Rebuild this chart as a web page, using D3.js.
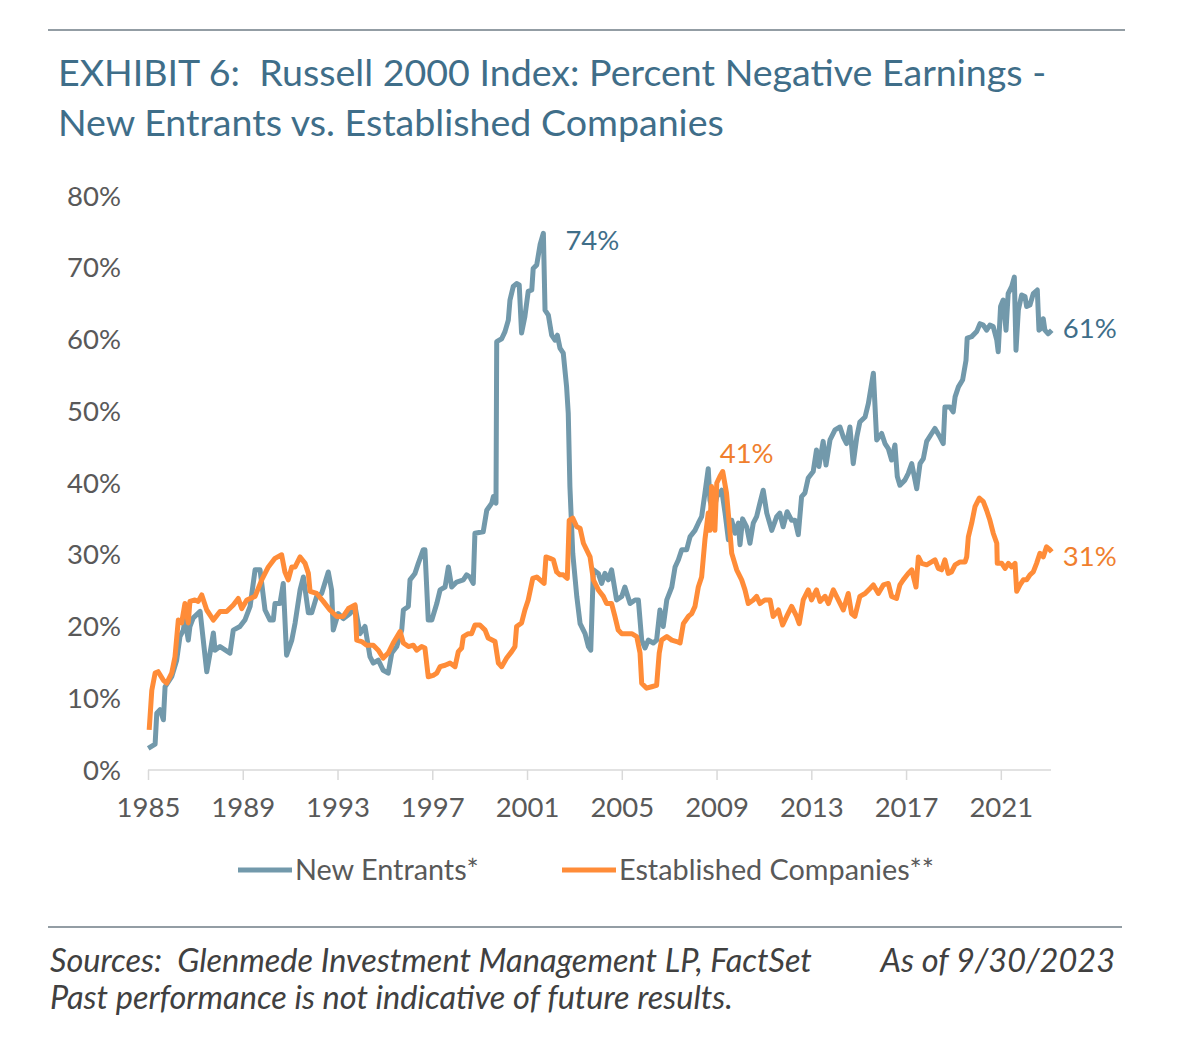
<!DOCTYPE html>
<html>
<head>
<meta charset="utf-8">
<script src="https://cdn.jsdelivr.net/npm/d3@7"></script>
<style>
  html, body { margin: 0; padding: 0; background: #fff; }
  svg { display: block; font-family: Lato, "Noto Sans", sans-serif; }
  svg text { white-space: pre; }
</style>
</head>
<body>
<svg id="chart" width="1179" height="1060"></svg>
<script>
// ---- Data (decimal years, percent negative earnings) ----
const newEntrantsYears = [1985.01,1985.30,1985.37,1985.51,1985.65,1985.72,1986.00,1986.21,1986.35,1986.49,1986.56,1986.70,1986.77,1986.91,1987.20,1987.41,1987.48,1987.62,1987.76,1987.83,1988.04,1988.46,1988.60,1988.88,1989.09,1989.31,1989.52,1989.73,1989.94,1990.15,1990.29,1990.36,1990.57,1990.71,1990.85,1991.07,1991.21,1991.42,1991.56,1991.77,1991.91,1992.12,1992.33,1992.61,1992.75,1992.82,1993.03,1993.24,1993.53,1993.74,1993.95,1994.16,1994.37,1994.51,1994.72,1994.93,1995.14,1995.29,1995.50,1995.71,1995.78,1995.99,1996.06,1996.27,1996.41,1996.62,1996.69,1996.83,1996.98,1997.19,1997.33,1997.54,1997.68,1997.82,1998.03,1998.31,1998.45,1998.59,1998.73,1998.80,1999.15,1999.30,1999.51,1999.58,1999.69,1999.72,1999.93,2000.07,2000.21,2000.28,2000.42,2000.56,2000.67,2000.77,2000.91,2001.05,2001.20,2001.26,2001.41,2001.55,2001.69,2001.76,2001.90,2002.04,2002.18,2002.28,2002.39,2002.53,2002.67,2002.74,2002.81,2002.93,2003.10,2003.24,2003.45,2003.59,2003.69,2003.80,2004.01,2004.15,2004.29,2004.43,2004.57,2004.78,2005.00,2005.13,2005.35,2005.56,2005.70,2005.84,2005.98,2006.12,2006.33,2006.47,2006.61,2006.75,2006.90,2007.11,2007.25,2007.39,2007.53,2007.74,2007.88,2008.09,2008.23,2008.37,2008.51,2008.65,2008.72,2008.86,2009.01,2009.22,2009.36,2009.50,2009.64,2009.78,2009.92,2009.99,2010.10,2010.27,2010.41,2010.55,2010.69,2010.83,2010.97,2011.12,2011.33,2011.54,2011.67,2011.81,2011.98,2012.17,2012.31,2012.45,2012.59,2012.73,2012.87,2013.08,2013.22,2013.32,2013.50,2013.62,2013.79,2014.00,2014.21,2014.35,2014.49,2014.63,2014.77,2014.92,2015.05,2015.27,2015.41,2015.62,2015.76,2015.97,2016.11,2016.25,2016.39,2016.53,2016.63,2016.74,2016.95,2017.09,2017.24,2017.45,2017.59,2017.73,2017.87,2018.08,2018.22,2018.43,2018.57,2018.64,2018.85,2018.99,2019.07,2019.21,2019.39,2019.53,2019.58,2019.77,2019.98,2020.12,2020.26,2020.40,2020.54,2020.68,2020.83,2020.89,2020.99,2021.10,2021.22,2021.31,2021.46,2021.57,2021.64,2021.74,2021.88,2022.02,2022.09,2022.23,2022.37,2022.54,2022.61,2022.72,2022.79,2022.86,2023.00,2023.15];
const newEntrantsValues = [3.0,3.6,7.9,8.4,7.0,11.6,13.0,15.3,18.6,19.5,20.9,18.1,20.0,21.2,22.1,15.8,13.7,16.3,19.1,16.7,17.2,16.3,19.5,20.0,20.9,22.8,27.9,27.9,22.3,20.9,20.9,23.2,23.2,26.0,16.0,18.1,20.5,25.1,26.9,21.9,21.9,24.2,24.6,27.6,25.1,19.5,21.8,21.1,21.8,22.8,19.0,20.0,15.8,14.9,15.3,13.9,13.5,16.3,17.2,19.5,22.3,22.8,26.5,27.4,28.8,30.7,30.7,20.9,20.9,23.2,25.1,25.5,28.3,25.5,26.2,26.5,27.2,26.9,26.0,33.0,33.2,36.2,37.2,38.1,37.2,59.7,60.1,61.1,62.7,65.5,67.4,67.8,67.6,60.9,63.2,66.7,66.9,69.9,70.4,73.2,74.8,64.1,63.4,60.6,59.9,60.6,58.8,58.1,53.4,49.7,39.5,30.2,24.2,20.4,19.0,17.2,16.7,27.9,27.4,26.0,27.4,26.5,27.9,23.7,24.2,25.5,23.2,23.7,23.7,18.1,17.0,18.1,17.7,18.1,22.3,20.0,23.7,25.5,28.3,29.3,30.7,30.7,32.5,33.4,34.4,35.3,38.6,42.0,37.6,35.8,38.1,39.0,35.8,32.1,34.8,33.0,34.4,31.4,35.0,33.9,31.6,34.4,35.3,37.2,39.0,35.8,33.4,35.3,35.8,33.9,36.0,34.8,34.8,32.8,38.1,38.6,40.7,41.6,44.6,42.3,45.8,42.5,46.0,47.4,47.8,46.4,45.5,47.8,42.7,46.4,48.5,49.2,51.1,55.3,46.0,46.9,45.5,44.8,43.2,45.3,40.9,39.7,40.4,41.3,42.7,39.2,42.7,43.4,45.8,46.9,47.6,46.4,45.5,50.6,50.6,49.9,52.0,53.4,54.4,57.1,60.2,60.4,61.1,62.2,62.0,61.3,62.0,61.8,59.9,58.3,64.6,65.5,61.3,66.4,67.4,68.7,58.5,64.1,66.2,66.0,64.6,64.8,66.4,66.9,61.3,61.6,62.9,61.3,60.8,61.3];

const establishedYears = [1985.05,1985.16,1985.30,1985.43,1985.65,1985.79,1986.00,1986.14,1986.28,1986.42,1986.56,1986.70,1986.77,1986.98,1987.12,1987.27,1987.48,1987.76,1988.04,1988.32,1988.60,1988.81,1988.96,1989.17,1989.52,1989.80,1990.08,1990.36,1990.64,1990.78,1990.92,1991.07,1991.21,1991.42,1991.63,1991.77,1991.84,1992.12,1992.40,1992.68,1992.97,1993.24,1993.46,1993.74,1993.81,1994.02,1994.23,1994.51,1994.72,1994.93,1995.14,1995.35,1995.64,1995.78,1995.99,1996.20,1996.34,1996.55,1996.69,1996.83,1997.04,1997.19,1997.33,1997.54,1997.75,1997.96,1998.10,1998.24,1998.31,1998.52,1998.66,1998.80,1999.01,1999.23,1999.36,1999.65,1999.79,1999.93,2000.14,2000.35,2000.49,2000.56,2000.77,2000.91,2001.05,2001.24,2001.41,2001.55,2001.72,2001.80,2001.97,2002.11,2002.25,2002.39,2002.53,2002.70,2002.78,2002.93,2003.10,2003.24,2003.38,2003.66,2003.80,2004.01,2004.22,2004.36,2004.57,2004.71,2004.85,2005.00,2005.21,2005.42,2005.63,2005.77,2005.84,2006.05,2006.26,2006.47,2006.58,2006.68,2006.90,2007.11,2007.32,2007.46,2007.60,2007.81,2007.95,2008.09,2008.23,2008.37,2008.51,2008.65,2008.72,2008.79,2008.93,2009.01,2009.14,2009.26,2009.42,2009.56,2009.64,2009.85,2010.06,2010.20,2010.34,2010.55,2010.69,2010.83,2011.04,2011.26,2011.39,2011.61,2011.79,2011.96,2012.17,2012.38,2012.49,2012.66,2012.87,2013.01,2013.22,2013.37,2013.58,2013.72,2013.93,2014.14,2014.35,2014.56,2014.70,2014.84,2015.05,2015.27,2015.48,2015.62,2015.83,2016.04,2016.25,2016.39,2016.60,2016.74,2016.88,2017.09,2017.24,2017.42,2017.52,2017.66,2017.87,2018.08,2018.22,2018.36,2018.50,2018.64,2018.78,2018.92,2019.07,2019.28,2019.49,2019.56,2019.63,2019.77,2019.91,2020.09,2020.26,2020.40,2020.54,2020.68,2020.83,2020.85,2021.04,2021.18,2021.32,2021.46,2021.60,2021.67,2021.81,2021.95,2022.09,2022.23,2022.37,2022.51,2022.65,2022.79,2022.93,2023.07,2023.15];
const establishedValues = [5.6,11.1,13.5,13.7,12.5,12.1,13.5,15.8,20.9,20.5,23.2,20.5,23.5,23.7,23.5,24.4,22.3,20.9,22.1,22.1,23.0,23.9,22.5,23.7,24.2,26.5,28.3,29.5,30.0,27.6,26.5,28.3,28.3,29.7,28.8,27.4,24.9,24.6,23.5,22.3,21.4,21.4,22.5,23.0,18.1,17.9,17.4,17.4,16.7,15.6,16.3,17.7,19.3,17.7,17.2,17.4,16.7,17.2,17.0,13.0,13.2,13.5,14.4,14.6,14.9,14.4,16.5,17.0,18.6,19.0,19.0,20.2,20.2,19.5,18.4,17.9,14.9,14.4,15.6,16.5,17.2,20.0,20.5,22.3,23.7,26.7,26.9,26.5,26.0,29.7,29.5,29.3,27.6,27.2,27.2,26.7,34.8,35.1,33.9,33.7,31.6,29.7,26.5,25.1,24.2,23.2,23.2,21.4,19.5,19.0,19.0,19.0,18.6,16.3,12.1,11.4,11.6,11.8,16.3,18.1,18.6,18.1,17.9,17.7,20.4,21.4,21.8,22.8,25.5,26.9,32.1,35.8,33.4,39.5,33.4,40.0,40.9,41.6,38.6,33.4,30.2,27.9,26.5,25.1,23.2,23.7,24.2,23.2,23.7,23.7,21.4,22.3,20.2,21.4,22.8,21.4,20.4,23.7,25.1,23.7,25.1,23.5,24.2,23.2,25.1,23.7,22.3,24.6,21.8,21.4,24.2,24.6,25.3,25.8,24.6,25.8,26.0,24.2,23.9,25.8,26.5,27.4,27.9,25.5,29.7,28.8,28.6,29.0,29.3,28.1,27.9,29.3,27.4,27.6,28.6,29.0,29.0,29.7,32.5,34.4,36.7,37.9,37.4,36.2,34.8,33.0,31.6,28.8,28.8,28.1,28.8,28.3,28.8,24.9,25.8,26.5,26.5,27.2,27.6,28.8,30.2,29.7,31.1,30.7,30.4];

const yTickValues = [0,10,20,30,40,50,60,70,80];
const xTickYears = [1985,1989,1993,1997,2001,2005,2009,2013,2017,2021];

const seriesNames = ["New Entrants*", "Established Companies**"];
const endLabels = [
  {text: "74%", year: 2001.69, value: 74.8, series: 0},
  {text: "61%", year: 2023.15, value: 61.3, series: 0},
  {text: "41%", year: 2009.26, value: 41.6, series: 1},
  {text: "31%", year: 2023.15, value: 30.4, series: 1}
];

// ---- Styling ----
const blue = "#7299ab";
const orange = "#ff8c38";
const blueText = "#3f6e89";
const orangeText = "#f07f2e";
const axisText = "#595959";

const svg = d3.select("#chart");

const x = d3.scaleLinear().domain([1985, 2023]).range([148, 1048.2]);
const y = d3.scaleLinear().domain([0, 80]).range([770, 196]);

// Top rule and title
svg.append("line").attr("x1", 48).attr("x2", 1125).attr("y1", 30).attr("y2", 30)
  .attr("stroke", "#6f7d86").attr("stroke-width", 1.5);

const title = svg.append("text").attr("x", 58).attr("fill", blueText)
  .attr("font-size", 37.6);
title.append("tspan").attr("x", 58).attr("y", 86).text("EXHIBIT 6:  Russell 2000 Index: Percent Negative Earnings -");
title.append("tspan").attr("x", 58).attr("y", 136).text("New Entrants vs. Established Companies");

// Y-axis labels
svg.append("g").selectAll("text").data(yTickValues).join("text")
  .attr("x", 121).attr("y", d => y(d)).attr("dy", "0.35em")
  .attr("text-anchor", "end").attr("fill", axisText).attr("font-size", 27.5)
  .text(d => d + "%");

// X-axis
const xAxis = d3.axisBottom(x).tickValues(xTickYears).tickSize(10).tickFormat(d3.format("d")).tickPadding(17);
const gx = svg.append("g").attr("transform", "translate(0,770)").call(xAxis);
gx.select(".domain").attr("d", "M148,0H1051").attr("stroke", "#d9d9d9").attr("stroke-width", 1.5);
gx.selectAll(".tick line").attr("stroke", "#d9d9d9").attr("stroke-width", 1.5);
gx.selectAll(".tick text").attr("fill", axisText).attr("font-size", 27.5).attr("font-family", "Lato, sans-serif");

// Lines
const line = d3.line().x(d => x(d[0])).y(d => y(d[1])).curve(d3.curveLinear);
const neData = d3.zip(newEntrantsYears, newEntrantsValues);
const ecData = d3.zip(establishedYears, establishedValues);

svg.append("path").datum(neData).attr("d", line).attr("fill", "none")
  .attr("stroke", blue).attr("stroke-width", 5).attr("stroke-linejoin", "round");
svg.append("path").datum(ecData).attr("d", line).attr("fill", "none")
  .attr("stroke", orange).attr("stroke-width", 5).attr("stroke-linejoin", "round");

// Data labels
const labelPos = [
  {dx: 22, dy: 17},
  {dx: 11, dy: 8},
  {dx: -3, dy: -9},
  {dx: 11, dy: 14}
];
svg.append("g").selectAll("text").data(endLabels).join("text")
  .attr("x", (d, i) => x(d.year) + labelPos[i].dx)
  .attr("y", (d, i) => y(d.value) + labelPos[i].dy)
  .attr("fill", d => d.series === 0 ? blueText : orangeText)
  .attr("font-size", 27.5)
  .text(d => d.text);

// Legend
const legendItems = [
  {name: seriesNames[0], color: blue, x: 238},
  {name: seriesNames[1], color: orange, x: 562}
];
const lg = svg.append("g").selectAll("g").data(legendItems).join("g");
lg.append("line").attr("x1", d => d.x).attr("x2", d => d.x + 54).attr("y1", 870).attr("y2", 870)
  .attr("stroke", d => d.color).attr("stroke-width", 5);
lg.append("text").attr("x", d => d.x + 57).attr("y", 870).attr("dy", "0.35em")
  .attr("fill", axisText).attr("font-size", 28.8).text(d => d.name);

// Bottom rule and footnotes
svg.append("line").attr("x1", 48).attr("x2", 1122).attr("y1", 927).attr("y2", 927)
  .attr("stroke", "#6f7d86").attr("stroke-width", 1.5);
svg.append("text").attr("x", 50).attr("y", 972).attr("fill", "#404040")
  .attr("font-size", 32.5).attr("font-style", "italic")
  .text("Sources:  Glenmede Investment Management LP, FactSet");
svg.append("text").attr("x", 1115).attr("y", 972).attr("fill", "#404040")
  .attr("font-size", 32.5).attr("font-style", "italic").attr("text-anchor", "end")
  .text("As of 9/30/2023");
svg.append("text").attr("x", 50).attr("y", 1009).attr("fill", "#404040")
  .attr("font-size", 32.5).attr("font-style", "italic")
  .text("Past performance is not indicative of future results.");
</script>
</body>
</html>
